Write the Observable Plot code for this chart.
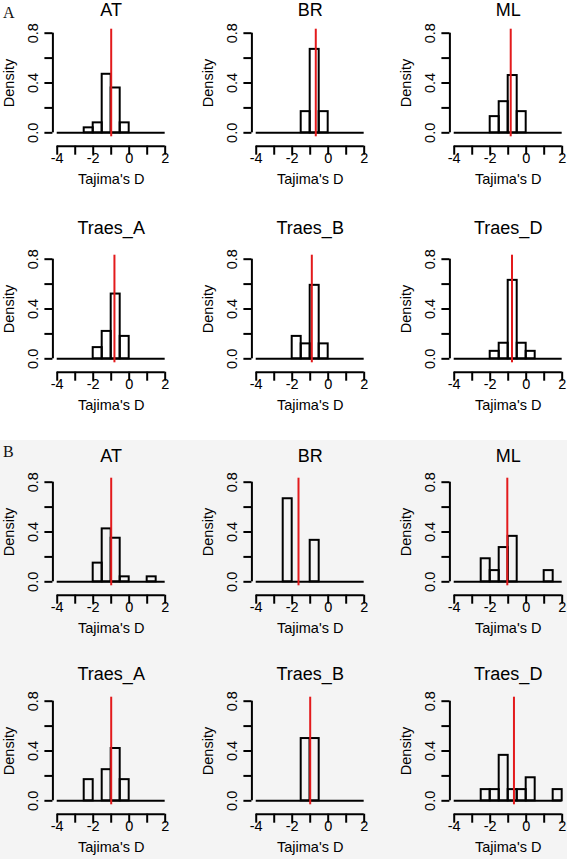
<!DOCTYPE html>
<html><head><meta charset="utf-8">
<script src="https://cdn.jsdelivr.net/npm/d3@7"></script>
<script src="https://cdn.jsdelivr.net/npm/@observablehq/plot@0.6"></script>
<style>
html,body{margin:0;padding:0;background:#fff;overflow:hidden}
#wrap{position:relative;width:567px;height:859px;overflow:hidden;background:#fff}
#bgB{position:absolute;left:0;top:440px;width:567px;height:419px;background:#f4f4f4}
.tag{position:absolute;font-family:"Liberation Serif","Times New Roman",serif;font-size:16px;color:#111;line-height:1}
</style></head><body><div id="wrap"><div id="bgB"></div></div>
<script>
// ---- data ----
const breaks = [-4,-3.5,-3,-2.5,-2,-1.5,-1,-0.5,0,0.5,1,1.5,2];
const populations = ["AT","BR","ML","Traes_A","Traes_B","Traes_D"];
const sectionLabels = ["A","B"];
// densities per bin (bins of width 0.5 from -4 to 2)
const A_AT     = [0,0,0,0.04,0.08,0.47,0.36,0.08,0,0,0,0];
const A_BR     = [0,0,0,0,0,0.17,0.67,0.17,0,0,0,0];
const A_ML     = [0,0,0,0,0.13,0.25,0.46,0.17,0,0,0,0];
const A_TraesA = [0,0,0,0,0.09,0.22,0.52,0.18,0,0,0,0];
const A_TraesB = [0,0,0,0,0.18,0.12,0.59,0.12,0,0,0,0];
const A_TraesD = [0,0,0,0,0.06,0.125,0.63,0.125,0.06,0,0,0];
const B_AT     = [0,0,0,0,0.15,0.425,0.35,0.04,0,0,0.04,0];
const B_BR     = [0,0,0,0.667,0,0,0.333,0,0,0,0,0];
const B_ML     = [0,0,0,0.185,0.09,0.275,0.365,0,0,0,0.09,0];
const B_TraesA = [0,0,0,0.17,0,0.25,0.42,0.17,0,0,0,0];
const B_TraesB = [0,0,0,0,0,0.5,0.5,0,0,0,0,0];
const B_TraesD = [0,0,0,0.09,0.09,0.365,0.09,0.09,0.185,0,0,0.09];
// red reference lines (mean Tajima's D)
const meanA = [-1.0,-0.69,-0.86,-0.82,-0.91,-0.79];
const meanB = [-1.0,-1.65,-1.05,-1.0,-1.0,-0.68];
// axes
const xTicks = [-4,-3,-2,-1,0,1,2];
const xTickLabels = [-4,-2,0,2];
const yTicks = [0,0.2,0.4,0.6,0.8];
const yTickLabels = [0,0.4,0.8];
const xLabel = "Tajima's D";
const yLabel = "Density";

// ---- layout ----
const FONT = '"Liberation Sans", Arial, Helvetica, sans-serif';
const RED = "#e31a1c";
const colX = [56.7, 255.3, 453.7];          // page x of D = -4
const rowY0 = [132.3, 358.3, 581.7, 800.7]; // page y of density 0
const titleGap = [117.3, 125, 120, 120.7];  // title baseline above density 0
const PW = 190, PH = 240;
const xDomain = [-4.24, 2.24], yDomain = [-0.032, 0.832];
const mL = 52.4, mR = 21, mT = 48.7, mB = 83.7;
const yPx0 = 152.3; // local y of density 0

const sets = [
  {dens:[A_AT,A_BR,A_ML,A_TraesA,A_TraesB,A_TraesD], mean: meanA},
  {dens:[B_AT,B_BR,B_ML,B_TraesA,B_TraesB,B_TraesD], mean: meanB}
];

function panel(title, dens, mean, row) {
  const bins = dens.map((d,i)=>({x1: breaks[i], x2: breaks[i+1], d})).filter(b=>b.d>0);
  const titleDy = (yPx0 - titleGap[row]) - mT;
  return Plot.plot({
    width: PW, height: PH,
    marginLeft: mL, marginRight: mR, marginTop: mT, marginBottom: mB,
    x: {domain: xDomain, axis: null},
    y: {domain: yDomain, axis: null},
    style: {background: "transparent", overflow: "visible", fontFamily: FONT},
    marks: [
      Plot.ruleY([0], {x1: breaks[0], x2: breaks[breaks.length-1], stroke: "#000", strokeWidth: 2}),
      Plot.rect(bins, {x1: "x1", x2: "x2", y1: 0, y2: "d", fill: "none", stroke: "#000", strokeWidth: 2}),
      Plot.ruleX([mean], {stroke: RED, strokeWidth: 2}),
      // y axis
      Plot.ruleX([xDomain[0]], {y1: yTicks[0], y2: yTicks[yTicks.length-1], stroke: "#000", strokeWidth: 2}),
      Plot.axisY({ticks: yTicks, anchor: "left", tickSize: 8, strokeWidth: 2, tickFormat: () => "", label: null}),
      Plot.text(yTickLabels, {y: d => d, frameAnchor: "left", dx: -19.6, rotate: -90, text: d => d.toFixed(1),
        textAnchor: "middle", lineAnchor: "middle", fontSize: 14.5, fill: "#000"}),
      Plot.text([yLabel], {frameAnchor: "left", dx: -43.4, rotate: -90, textAnchor: "middle", lineAnchor: "middle", fontSize: 14.5, fill: "#000"}),
      // x axis
      Plot.ruleY([yDomain[0]], {x1: xTicks[0], x2: xTicks[xTicks.length-1], dy: 9.4, stroke: "#000", strokeWidth: 2}),
      Plot.axisX({ticks: xTicks, anchor: "bottom", tickSize: 9, dy: 9.4, strokeWidth: 2, tickFormat: () => "", label: null}),
      Plot.text(xTickLabels, {x: d => d, frameAnchor: "bottom", dy: 21.8, text: d => String(d),
        textAnchor: "middle", lineAnchor: "middle", fontSize: 14.5, fill: "#000"}),
      Plot.text([xLabel], {frameAnchor: "bottom", dy: 42.9, textAnchor: "middle", lineAnchor: "middle", fontSize: 14.5, fill: "#000"}),
      // title
      Plot.text([title], {frameAnchor: "top", dy: titleDy, textAnchor: "middle", lineAnchor: "bottom", fontSize: 18, fill: "#000"})
    ]
  });
}

const wrap = document.getElementById("wrap");
sets.forEach((s, si) => {
  populations.forEach((p, pi) => {
    const row = si*2 + Math.floor(pi/3), col = pi % 3;
    const el = panel(p, s.dens[pi], s.mean[pi], row);
    el.style.position = "absolute";
    el.style.left = (colX[col] - 56.7) + "px";
    el.style.top = (rowY0[row] - yPx0) + "px";
    el.style.maxWidth = "none";
    wrap.appendChild(el);
  });
});
const tagPos = [[3, 5], [3, 444]];
sectionLabels.forEach((t, i) => {
  const d = document.createElement("div");
  d.className = "tag"; d.textContent = t;
  d.style.left = tagPos[i][0] + "px"; d.style.top = tagPos[i][1] + "px";
  wrap.appendChild(d);
});
</script></body></html>
